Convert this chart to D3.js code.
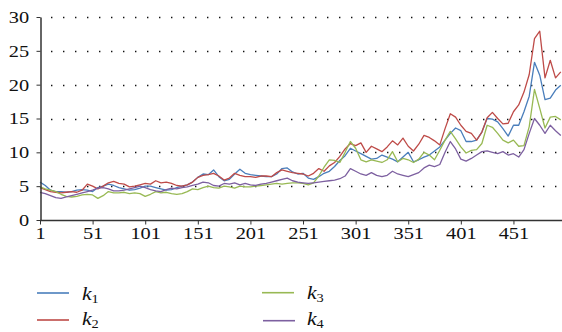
<!DOCTYPE html>
<html>
<head>
<meta charset="utf-8">
<script src="https://cdn.jsdelivr.net/npm/d3@7"></script>
<style>
  html, body { margin: 0; padding: 0; background: #fff; }
  svg { display: block; }
</style>
</head>
<body>
<div id="chart"></div>
<script>
// sample index of each reading (every 5th observation)
const idx = d3.range(1, 497, 5);

const k1 = [5.6, 5.1, 4.4, 4.2, 4.2, 4.1, 4.2, 4.4, 4.5, 4.4,
  4.2, 4.8, 5.0, 5.3, 5.1, 4.8, 4.6, 4.4, 4.5, 4.7,
  5.0, 5.0, 4.8, 4.6, 4.4, 4.5, 4.8, 5.0, 5.2, 5.6,
  6.3, 6.8, 6.7, 7.4, 6.4, 5.8, 6.0, 6.8, 7.5, 6.9,
  6.7, 6.6, 6.5, 6.4, 6.4, 6.8, 7.6, 7.7, 7.1, 6.8,
  6.9, 6.2, 6.0, 6.4, 6.9, 7.2, 7.9, 8.8, 9.5, 10.6,
  10.2, 9.8, 9.4, 9.0, 9.1, 9.6, 9.3, 9.0, 8.6, 9.3,
  10.0, 8.6, 8.9, 9.3, 9.6, 10.2, 10.8, 11.8, 12.8, 13.6,
  13.2, 11.6, 11.6, 11.8, 13.0, 15.0, 14.9, 14.5, 13.5, 12.4,
  14.0, 14.0, 16.0, 18.3, 23.3, 21.4, 17.8, 18.0, 19.2, 19.9];

const k2 = [4.8, 4.5, 4.2, 4.1, 4.0, 4.1, 4.2, 4.1, 4.4, 5.3,
  5.0, 4.6, 5.0, 5.5, 5.7, 5.4, 5.3, 4.9, 5.0, 5.2,
  5.4, 5.3, 5.8, 5.5, 5.6, 5.4, 5.1, 5.0, 5.2, 5.6,
  6.3, 6.6, 6.7, 6.9, 6.5, 5.9, 6.2, 6.9, 6.6, 6.4,
  6.4, 6.3, 6.5, 6.5, 6.4, 7.0, 7.4, 7.2, 7.0, 6.9,
  6.8, 6.5, 6.9, 7.6, 7.2, 8.0, 8.5, 9.4, 10.5, 11.3,
  11.0, 11.4, 10.0, 10.9, 10.5, 10.1, 10.8, 11.7, 11.1, 12.1,
  10.9, 10.2, 11.2, 12.5, 12.2, 11.7, 11.1, 13.5, 15.7, 15.2,
  14.0, 13.1, 12.8, 11.8, 13.0, 15.1, 15.9, 15.0, 14.2, 14.3,
  16.0, 17.0, 18.9, 21.5, 26.8, 27.9, 21.0, 23.6, 21.0, 21.9];

const k3 = [4.9, 4.6, 4.4, 4.2, 3.8, 3.5, 3.4, 3.5, 3.7, 3.8,
  3.7, 3.2, 3.6, 4.2, 4.0, 4.0, 4.1, 3.9, 4.0, 3.9,
  3.5, 3.8, 4.2, 4.0, 4.1, 3.9, 3.8, 3.9, 4.2, 4.6,
  4.5, 4.8, 5.0, 4.8, 4.7, 5.0, 4.9, 4.7, 5.0, 4.9,
  4.9, 5.0, 5.1, 5.2, 5.3, 5.4, 5.3, 5.4, 5.5, 5.5,
  5.4, 5.2, 5.5, 6.5, 7.8, 8.9, 8.8, 8.5, 10.0, 11.6,
  10.6, 8.9, 8.6, 8.9, 8.7, 8.5, 8.9, 10.1, 8.6, 9.1,
  8.9, 8.5, 9.0, 10.0, 9.6, 8.9, 10.3, 11.8, 13.1, 12.0,
  10.8, 9.9, 10.3, 10.4, 11.3, 14.0, 13.7, 12.8, 11.8, 11.4,
  11.8, 10.9, 11.0, 13.8, 19.3, 16.5, 13.6, 15.2, 15.3, 14.8];

const k4 = [4.1, 3.9, 3.6, 3.3, 3.2, 3.4, 3.6, 3.8, 4.0, 4.2,
  4.4, 4.7, 4.8, 4.6, 4.3, 4.3, 4.4, 4.6, 4.8, 5.0,
  4.8, 4.5, 4.3, 4.2, 4.5, 4.7, 4.6, 4.8, 4.9, 5.1,
  5.3, 5.6, 5.5, 5.1, 5.0, 5.4, 5.3, 5.5, 5.2, 5.4,
  5.2, 5.1, 5.3, 5.4, 5.6, 5.8, 6.0, 6.2, 5.8, 5.6,
  5.5, 5.4, 5.5, 5.6, 5.7, 5.8, 5.9, 6.1, 6.5, 7.6,
  7.2, 6.8, 6.6, 7.0, 6.6, 6.4, 6.6, 7.2, 6.8, 6.6,
  6.4, 6.7, 7.0, 7.7, 8.1, 7.9, 8.2, 10.0, 11.6, 10.5,
  9.0, 8.7, 9.1, 9.6, 10.1, 10.2, 10.0, 9.8, 10.1, 9.6,
  9.8, 9.3, 10.4, 12.8, 15.0, 14.0, 12.8, 14.0, 13.2, 12.5];

const seriesNames = ['1', '2', '3', '4'];
const seriesValues = [k1, k2, k3, k4];
const colors = ['#4a7ebb', '#be4b48', '#98b954', '#7d60a0'];

const xTicks = [1, 51, 101, 151, 201, 251, 301, 351, 401, 451];
const yTicks = [0, 5, 10, 15, 20, 25, 30];

const width = 562;
const height = 332;
const margin = { top: 17, left: 40 };
const serif = "'Liberation Serif', 'Times New Roman', serif";
const stretch = 'scale(1.2,1)';

const svg = d3.select('#chart')
  .append('svg')
  .attr('width', width)
  .attr('height', height);

const x = d3.scaleLinear().domain([1, 500]).range([margin.left, 565]);
const y = d3.scaleLinear().domain([0, 30]).range([220, margin.top]);

// dotted horizontal gridlines
svg.append('g')
  .selectAll('line')
  .data(yTicks.filter(d => d > 0))
  .enter()
  .append('line')
  .attr('x1', 51)
  .attr('x2', 560)
  .attr('y1', d => Math.round(y(d)) + 0.5)
  .attr('y2', d => Math.round(y(d)) + 0.5)
  .attr('stroke', '#111')
  .attr('stroke-width', 1.4)
  .attr('stroke-dasharray', '1.4 10.6');

// series
const line = d3.line()
  .x((d, i) => x(idx[i]))
  .y(d => y(d));

svg.append('g')
  .selectAll('path')
  .data(seriesValues)
  .enter()
  .append('path')
  .attr('fill', 'none')
  .attr('stroke', (d, i) => colors[i])
  .attr('stroke-width', 1.3)
  .attr('stroke-linejoin', 'round')
  .attr('d', line);

// axes
svg.append('g')
  .attr('transform', `translate(0,${Math.round(y(0)) + 0.5})`)
  .call(d3.axisBottom(x).tickValues(xTicks).tickSize(4).tickSizeOuter(0).tickFormat(d3.format('d')))
  .call(g => g.select('.domain').attr('stroke', '#333').attr('stroke-width', 1.5).attr('d', `M${margin.left},0H${width}`))
  .call(g => g.selectAll('.tick line').attr('stroke', '#333'))
  .call(g => g.selectAll('text')
    .attr('fill', '#111')
    .attr('dy', '0.68em')
    .attr('transform', stretch)
    .style('font-family', serif)
    .style('font-size', '17px'));

svg.append('g')
  .attr('transform', `translate(${margin.left + 0.5},0)`)
  .call(d3.axisLeft(y).tickValues(yTicks).tickSize(4).tickSizeOuter(0).tickPadding(5.5))
  .call(g => g.select('.domain').attr('stroke', '#333').attr('stroke-width', 1.5))
  .call(g => g.selectAll('.tick line').attr('stroke', '#333'))
  .call(g => g.selectAll('text')
    .attr('fill', '#111')
    .attr('transform', stretch)
    .style('font-family', serif)
    .style('font-size', '17px'));

// legend
const legendPos = [
  { lx: 37, ty: 300, ly: -7 },
  { lx: 37, ty: 324.5, ly: -4.5 },
  { lx: 262, ty: 299, ly: -6.3 },
  { lx: 263, ty: 325, ly: -4.3 }
];

const legend = svg.append('g')
  .selectAll('g')
  .data(seriesNames)
  .enter()
  .append('g')
  .attr('transform', (d, i) => `translate(${legendPos[i].lx},${legendPos[i].ty})`);

legend.append('line')
  .attr('x1', 0)
  .attr('x2', 32)
  .attr('y1', (d, i) => legendPos[i].ly)
  .attr('y2', (d, i) => legendPos[i].ly)
  .attr('stroke', (d, i) => colors[i])
  .attr('stroke-width', 1.6);

const label = legend.append('text')
  .attr('transform', (d, i) => `translate(${i === 3 ? 44 : 45},0) ${stretch}`)
  .attr('fill', '#111')
  .style('font-family', serif)
  .style('font-size', '18px');

label.append('tspan')
  .style('font-style', 'italic')
  .text('k');

label.append('tspan')
  .attr('dy', 3)
  .style('font-size', '12px')
  .text(d => d);
</script>
</body>
</html>
